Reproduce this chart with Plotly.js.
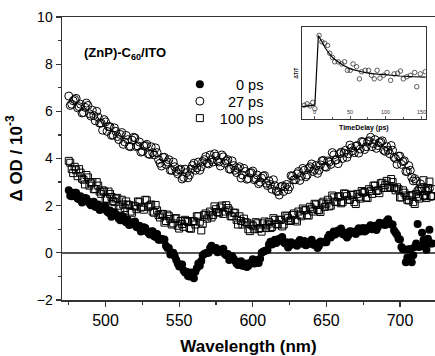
<!DOCTYPE html>
<html>
<head>
<meta charset="utf-8">
<script src="https://cdn.plot.ly/plotly-3.0.1.min.js"></script>
<style>html,body{margin:0;padding:0;background:#fff;}#chart{width:435px;height:356px;}</style>
</head>
<body>
<div id="chart"></div>
<script>
// Wavelength (nm): two interleaved read-outs of the scan
const wavelengthScanA = [475,477,479,481,483,485,487,489,491,493,495,497,499,501,503,505,507,509,511,513,515,517,519,521,523,525,527,529,531,533,535,537,539,541,543,545,547,549,551,553,555,557,559,561,563,565,567,569,571,573,575,577,579,581,583,585,587,589,591,593,595,597,599,601,603,605,607,609,611,613,615,617,619,621,623,625,627,629,631,633,635,637,639,641,643,645,647,649,651,653,655,657,659,661,663,665,667,669,671,673,675,677,679,681,683,685,687,689,691,693,695,697,699,701,703,705,707,709,711,713,715,717,719,721];
const wavelengthScanB = [476,478,480,482,484,486,488,490,492,494,496,498,500,502,504,506,508,510,512,514,516,518,520,522,524,526,528,530,532,534,536,538,540,542,544,546,548,550,552,554,556,558,560,562,564,566,568,570,572,574,576,578,580,582,584,586,588,590,592,594,596,598,600,602,604,606,608,610,612,614,616,618,620,622,624,626,628,630,632,634,636,638,640,642,644,646,648,650,652,654,656,658,660,662,664,666,668,670,672,674,676,678,680,682,684,686,688,690,692,694,696,698,700,702,704,706,708,710,712,714,716,718,720,722];

// ΔOD / 10^-3 at 0 ps
const od_0ps_A = [2.65,2.40,2.55,2.30,2.40,2.20,2.30,2.10,2.15,1.95,2.05,1.85,1.90,1.75,1.80,1.60,1.65,1.45,1.55,1.35,1.40,1.20,1.30,1.10,1.15,0.95,1.05,0.85,0.90,0.70,0.80,0.55,0.55,0.30,0.20,-0.05,-0.15,-0.45,-0.50,-0.75,-0.80,-1.00,-0.85,-0.80,-0.45,-0.35,-0.05,0.00,0.20,0.15,0.20,0.05,0.10,-0.05,-0.05,-0.25,-0.25,-0.45,-0.40,-0.55,-0.45,-0.55,-0.40,-0.45,-0.30,-0.25,0.05,0.10,0.35,0.35,0.55,0.50,0.60,0.45,0.45,0.30,0.40,0.35,0.45,0.40,0.50,0.35,0.45,0.35,0.40,0.30,0.45,0.45,0.65,0.65,0.90,0.85,0.95,0.80,0.85,0.75,0.90,0.85,0.95,0.90,1.05,0.95,1.05,1.00,1.15,1.10,1.25,1.20,1.35,1.25,1.20,0.85,0.60,0.25,0.15,-0.20,0.15,-0.10,0.40,0.25,0.85,0.35,0.60,0.40];
const od_0ps_B = [2.42,2.53,2.55,2.27,2.13,2.32,2.18,2.02,2.17,1.93,
                  1.82,1.93,1.97,1.70,1.53,1.72,1.55,1.38,1.54,1.30,
                  1.18,1.27,1.33,1.07,0.90,1.08,0.92,0.78,0.92,0.67,
                  0.55,0.60,0.57,0.20,-0.07,0.00,-0.30,-0.58,-0.50,-0.83,
                  -0.98,-0.83,-1.08,-0.65,-0.55,-0.10,-0.02,0.00,0.30,0.13,
                  0.02,0.13,0.17,-0.10,-0.30,-0.15,-0.35,-0.52,-0.36,-0.55,
                  -0.60,-0.43,-0.27,-0.43,-0.43,0.00,0.08,0.12,0.47,0.40,
                  0.42,0.60,0.67,0.40,0.23,0.45,0.38,0.30,0.54,0.40,
                  0.32,0.45,0.55,0.33,0.20,0.48,0.45,0.45,0.77,0.73,
                  0.78,0.95,1.03,0.77,0.65,0.92,0.88,0.80,1.04,0.93,
                  0.90,1.05,1.17,1.03,0.97,1.28,1.22,1.18,1.42,1.20,
                  0.95,0.77,0.57,0.15,-0.40,0.15,-0.40,0.25,1.22,0.28,
                  0.54,0.13,0.98,0.40];

// ΔOD / 10^-3 at 27 ps
const od_27ps_A = [6.65,6.30,6.50,6.15,6.30,5.95,6.35,5.90,6.05,5.60,5.75,5.50,5.65,5.15,5.35,5.00,5.15,4.80,5.10,4.70,4.80,4.50,4.90,4.50,4.70,4.30,4.55,4.20,4.50,4.15,4.25,3.80,4.05,3.75,3.95,3.50,3.65,3.35,3.55,3.20,3.40,3.30,3.70,3.50,3.85,3.65,3.95,3.80,4.15,3.85,4.10,3.85,4.15,3.80,3.95,3.55,3.70,3.40,3.65,3.30,3.45,3.15,3.40,3.10,3.30,3.00,3.25,2.95,3.05,2.70,2.85,2.60,2.80,2.60,2.90,2.80,3.25,3.10,3.45,3.25,3.50,3.30,3.65,3.45,3.70,3.50,3.90,3.65,3.90,3.75,4.15,3.95,4.20,4.00,4.35,4.20,4.45,4.25,4.55,4.40,4.70,4.50,4.75,4.50,4.80,4.55,4.70,4.35,4.50,4.20,4.35,4.00,4.10,3.75,3.90,3.45,3.50,3.05,3.05,2.70,2.75,2.45,2.65,2.40];
const od_27ps_B = [6.25,6.45,6.55,6.20,5.93,6.17,6.25,5.80,5.82,6.00,
                   5.50,5.20,5.55,5.35,4.98,5.30,4.93,5.02,4.60,4.98,
                   4.52,4.78,4.87,4.53,4.27,4.53,4.60,4.17,4.25,4.45,
                   3.95,3.68,4.05,3.85,3.50,3.85,3.45,3.52,3.13,3.55,
                   3.18,3.55,3.80,3.60,3.50,3.87,4.08,3.77,3.95,4.20,
                   3.90,3.68,4.07,3.90,3.55,3.90,3.50,3.58,3.17,3.58,
                   3.12,3.38,3.47,3.15,2.93,3.17,3.28,2.85,2.90,3.10,
                   2.62,2.45,2.83,2.80,2.68,3.27,3.10,3.35,3.07,3.58,
                   3.22,3.58,3.77,3.53,3.37,3.73,3.92,3.63,3.85,4.25,
                   3.92,3.78,4.27,4.23,4.05,4.57,4.33,4.52,4.23,4.72,
                   4.38,4.72,4.90,4.63,4.43,4.67,4.75,4.30,4.35,4.55,
                   4.05,3.75,4.10,3.87,3.45,3.70,3.20,3.15,2.63,2.92,
                   2.40,2.62,2.73,2.40];

// ΔOD / 10^-3 at 100 ps
const od_100ps_A = [3.90,3.55,3.65,3.25,3.40,3.10,3.30,2.85,3.00,2.70,2.85,2.50,2.60,2.30,2.50,2.20,2.30,2.00,2.25,1.90,2.05,1.75,2.00,1.85,2.15,1.95,2.25,1.95,2.05,1.70,1.80,1.50,1.65,1.35,1.55,1.20,1.45,1.15,1.35,1.10,1.35,1.05,1.35,1.20,1.55,0.95,1.60,1.45,1.75,1.60,1.85,1.70,2.00,1.75,1.90,1.55,1.70,1.40,1.55,1.20,1.30,1.00,1.20,1.00,1.25,1.05,1.25,1.05,1.30,1.10,1.40,1.20,1.40,1.20,1.55,1.35,1.60,1.40,1.75,1.55,1.80,1.60,1.95,1.75,2.05,1.80,2.10,1.95,2.25,2.00,2.35,2.15,2.40,2.15,2.50,2.25,2.45,2.15,2.50,2.30,2.55,2.35,2.70,2.50,2.85,2.65,2.95,2.75,3.05,2.80,3.00,2.65,2.70,2.35,2.55,2.25,2.40,2.15,2.50,2.30,2.70,2.40,2.75,2.40];
const od_100ps_B = [3.82,3.38,3.50,3.55,3.15,2.90,3.20,2.95,2.70,3.00,
                    2.60,2.65,2.28,2.60,2.37,2.15,2.33,1.87,2.05,2.18,
                    2.02,1.70,1.97,2.18,1.92,1.83,2.23,2.00,1.75,2.03,
                    1.60,1.65,1.28,1.62,1.43,1.25,1.47,1.03,1.22,1.40,
                    1.30,1.02,1.33,1.55,1.32,1.23,1.67,1.58,1.50,1.97,
                    1.73,1.92,1.65,2.02,1.80,1.55,1.70,1.20,1.35,1.45,
                    1.28,0.92,1.15,1.30,1.02,0.90,1.33,1.20,1.05,1.47,
                    1.23,1.40,1.12,1.58,1.47,1.38,1.67,1.33,1.62,1.88,
                    1.82,1.58,1.87,2.08,1.82,1.73,2.17,2.08,1.97,2.43,
                    2.17,2.38,2.10,2.52,2.40,2.25,2.47,2.07,2.38,2.62,
                    2.58,2.32,2.63,2.85,2.62,2.53,2.97,2.88,2.75,3.13,
                    2.75,2.78,2.35,2.65,2.43,2.22,2.45,2.07,2.38,2.62,
                    3.08,2.32,3.02,2.70];

const seriesNames = ["\u2007\u20070 ps", "\u200727 ps", "100 ps"];

// Inset: transient kinetics (ΔT/T vs time delay)
const insetTime = [-15,-11,-7,-3,0,6,10,14,18,21,25,28,33,38,42,46,50,54,59,63,66,71,76,80,84,88,92,97,102,107,112,117,121,125,130,135,141,144,149,156];
const insetSignal = [0.02,0.04,0.01,0.06,-0.03,1.00,0.91,0.89,0.86,0.75,0.69,0.63,0.63,0.60,0.63,0.51,0.51,0.60,0.56,0.39,0.49,0.51,0.51,0.44,0.39,0.51,0.40,0.44,0.48,0.37,0.46,0.47,0.50,0.39,0.42,0.44,0.48,0.28,0.46,0.49];
const fitTime = [-18,-10,0,5,10,15,20,25,30,40,50,60,70,80,100,120,140,157];
const fitSignal = [0.0,0.01,0.02,1.0,0.90,0.82,0.75,0.69,0.65,0.58,0.53,0.50,0.48,0.465,0.445,0.43,0.42,0.415];
const insetTickVals = [0, 50, 100, 150];
const insetTickText = ["0", "50", "100", "150"];

const FONT = "Liberation Sans, Arial, sans-serif";

const traces = [
  {x: wavelengthScanA.concat(wavelengthScanB), y: od_0ps_A.concat(od_0ps_B), name: seriesNames[0],
   type: "scatter", mode: "markers", legend: "legend",
   marker: {symbol: "circle", size: 8, color: "#000", line: {width: 0}}},
  {x: wavelengthScanA.concat(wavelengthScanB), y: od_27ps_A.concat(od_27ps_B), name: seriesNames[1],
   type: "scatter", mode: "markers", legend: "legend2",
   marker: {symbol: "circle-open", size: 8, color: "#000", line: {width: 1}}},
  {x: wavelengthScanA.concat(wavelengthScanB), y: od_100ps_A.concat(od_100ps_B), name: seriesNames[2],
   type: "scatter", mode: "markers", legend: "legend3",
   marker: {symbol: "square-open", size: 7, color: "#000", line: {width: 1}}},
  {x: insetTime, y: insetSignal, xaxis: "x2", yaxis: "y2", type: "scatter", mode: "markers",
   showlegend: false, marker: {symbol: "circle-open", size: 4.5, color: "#333", line: {width: 0.8}}},
  {x: fitTime, y: fitSignal, xaxis: "x2", yaxis: "y2", type: "scatter", mode: "lines",
   showlegend: false, line: {color: "#000", width: 1.2}}
];

const annotations = [
  {xref: "paper", yref: "paper", x: 0.054, y: 0.872, xanchor: "left", yanchor: "middle",
   text: "(ZnP)-C<sub>60</sub>/ITO", showarrow: false,
   font: {size: 13, family: FONT, weight: "bold", color: "#000"}},
  {xref: "x2", yref: "paper", x: 69, y: 0.609, xanchor: "center", yanchor: "middle",
   text: "TimeDelay (ps)", showarrow: false,
   font: {size: 7, family: FONT, weight: "bold", color: "#000"}}
];
insetTickVals.forEach((v, i) => annotations.push({
  xref: "x2", yref: "y2", x: v, y: -0.075, xanchor: "center", yanchor: "middle",
  text: insetTickText[i], showarrow: false, font: {size: 5.5, family: FONT, color: "#333"}
}));

function legendAt(yPaper) {
  return {x: 0.316, y: yPaper, xanchor: "left", yanchor: "top", bgcolor: "rgba(0,0,0,0)",
          font: {size: 14.5, family: FONT}, itemwidth: 30};
}

const layout = {
  width: 435, height: 356,
  margin: {l: 62, r: 0, t: 17, b: 56},
  paper_bgcolor: "#fff", plot_bgcolor: "#fff",
  font: {family: FONT, color: "#000"},
  showlegend: true,
  legend: legendAt(0.819),
  legend2: legendAt(0.759),
  legend3: legendAt(0.699),
  xaxis: {
    domain: [0, 1], range: [470.4, 723.8],
    showline: true, linecolor: "#333", linewidth: 1.5, mirror: true,
    showgrid: false, zeroline: false,
    ticks: "outside", ticklen: 5, tickwidth: 1.2, tickcolor: "#333",
    tickvals: [500, 550, 600, 650, 700],
    minor: {tickvals: [475, 525, 575, 625, 675, 725], ticks: "outside", ticklen: 3, tickcolor: "#333", tickwidth: 1.2, showgrid: false},
    tickfont: {size: 16, family: FONT},
    title: {text: "Wavelength (nm)", font: {size: 17, family: FONT, weight: "bold"}, standoff: 12}
  },
  yaxis: {
    domain: [0, 1], range: [-2, 10],
    showline: true, linecolor: "#333", linewidth: 1.5, mirror: false,
    showgrid: false, zeroline: true, zerolinecolor: "#555", zerolinewidth: 1.5,
    ticks: "outside", ticklen: 5, tickwidth: 1.2, tickcolor: "#333",
    tickvals: [-2, 0, 2, 4, 6, 8, 10],
    minor: {tickvals: [-1, 1, 3, 5, 7, 9], ticks: "outside", ticklen: 3, tickcolor: "#333", tickwidth: 1.2, showgrid: false},
    tickfont: {size: 14, family: FONT},
    title: {text: "Δ OD / 10<sup>-3</sup>", font: {size: 17, family: FONT, weight: "bold"}, standoff: 10}
  },
  xaxis2: {
    domain: [0.643, 0.975], anchor: "y2", range: [-18.4, 156.6],
    showline: true, linecolor: "#333", linewidth: 1, mirror: true,
    showgrid: false, zeroline: false,
    ticks: "inside", ticklen: 3, tickwidth: 0.8, tickcolor: "#333",
    tickvals: insetTickVals, showticklabels: false,
    minor: {tickvals: [25, 75, 125], ticks: "inside", ticklen: 2, tickcolor: "#333", showgrid: false}
  },
  yaxis2: {
    domain: [0.638, 0.965], anchor: "x2", range: [-0.18, 1.12],
    showline: true, linecolor: "#333", linewidth: 1, mirror: true,
    showgrid: false, zeroline: false, showticklabels: false, ticks: "",
    title: {text: "ΔT/T", font: {size: 5, family: FONT, weight: "bold"}, standoff: 2}
  },
  annotations: annotations
};

Plotly.newPlot("chart", traces, layout, {staticPlot: true, displayModeBar: false});
</script>
</body>
</html>
